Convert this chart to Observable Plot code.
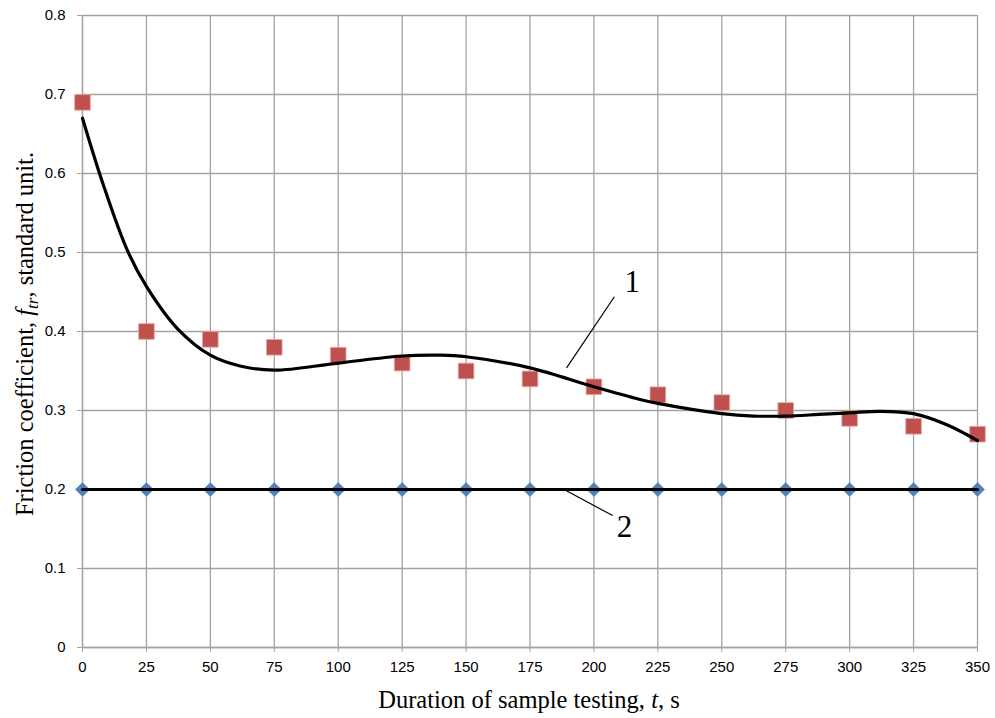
<!DOCTYPE html>
<html><head><meta charset="utf-8">
<script src="https://cdn.jsdelivr.net/npm/d3@7"></script>
<script src="https://cdn.jsdelivr.net/npm/@observablehq/plot@0.6"></script>
<style>
body{margin:0;background:#fff}
g[aria-label$="tick label"], g[aria-label$="tick label"] text { font-size: 15px !important; font-family: "Liberation Sans", Arial, sans-serif !important; }
</style>
</head><body><div id="chart"></div>
<script>
// Data
const times = [0, 25, 50, 75, 100, 125, 150, 175, 200, 225, 250, 275, 300, 325, 350];
const measured = [0.69, 0.40, 0.39, 0.38, 0.37, 0.36, 0.35, 0.34, 0.33, 0.32, 0.31, 0.30, 0.29, 0.28, 0.27];
const baseline = [0.2, 0.2, 0.2, 0.2, 0.2, 0.2, 0.2, 0.2, 0.2, 0.2, 0.2, 0.2, 0.2, 0.2, 0.2];
const trendT = [0, 8, 17.5, 25, 37, 50, 62, 75, 100, 125, 140, 150, 175, 200, 218, 225, 250, 262.5, 275, 288, 300, 312, 325, 338, 350];
const trendV = [0.670, 0.587, 0.503, 0.457, 0.404, 0.370, 0.356, 0.351, 0.360, 0.369, 0.370, 0.368, 0.354, 0.330, 0.314, 0.309, 0.296, 0.293, 0.293, 0.295, 0.297, 0.299, 0.296, 0.282, 0.262];
const xTicks = [0, 25, 50, 75, 100, 125, 150, 175, 200, 225, 250, 275, 300, 325, 350];
const yTicks = [0, 0.1, 0.2, 0.3, 0.4, 0.5, 0.6, 0.7, 0.8];
const labels = ["1", "2"];
const labelT = [215, 212];
const labelV = [0.462, 0.152];
const leaderT1 = [189.3, 188.9];
const leaderV1 = [0.354, 0.199];
const leaderT2 = [208, 207.3];
const leaderV2 = [0.444, 0.167];

const pts = times.map((t, i) => ({t, m: measured[i], b: baseline[i]}));
const trend = trendT.map((t, i) => ({t, v: trendV[i]}));
const ann = labels.map((l, i) => ({l, t: labelT[i], v: labelV[i], t1: leaderT1[i], v1: leaderV1[i], t2: leaderT2[i], v2: leaderV2[i]}));

const gridColor = "#a3a3a3";
const tickFont = "Liberation Sans, Arial, sans-serif";
const svg = Plot.plot({
  width: 995, height: 718,
  marginLeft: 82, marginRight: 18, marginTop: 15, marginBottom: 71,
  style: {fontFamily: tickFont, fontSize: "15px", background: "#fff", color: "#000"},
  x: {domain: [0, 350]},
  y: {domain: [0, 0.8]},
  marks: [
    Plot.gridX(xTicks, {stroke: gridColor, strokeOpacity: 1, strokeWidth: 1.3}),
    Plot.gridY(yTicks, {stroke: gridColor, strokeOpacity: 1, strokeWidth: 1.3}),
    Plot.axisX({ticks: xTicks, tickSize: 5, tickPadding: 9, stroke: gridColor, fill: "#000", fontSize: 15, label: null, tickFormat: d => String(d)}),
    Plot.axisY({ticks: yTicks, tickSize: 5, tickPadding: 12, stroke: gridColor, fill: "#000", fontSize: 15, label: null, tickFormat: d => d === 0 ? "0" : d.toFixed(1)}),
    Plot.ruleX([0], {stroke: gridColor, strokeWidth: 1.3}),
    Plot.ruleY([0], {stroke: gridColor, strokeWidth: 1.3}),
    Plot.link(ann, {x1: "t1", y1: "v1", x2: "t2", y2: "v2", stroke: "#000", strokeWidth: 1.2}),
    Plot.text(ann, {x: "t", y: "v", text: "l", fontFamily: "Liberation Serif, Times New Roman, serif", fontSize: 31, fill: "#000"}),
    Plot.dot(pts, {x: "t", y: "m", symbol: "square", r: 8.8, fill: "#C0504D", stroke: "#e3a3a1", strokeWidth: 0.8}),
    Plot.line(trend, {x: "t", y: "v", curve: "catmull-rom", stroke: "#000", strokeWidth: 3.2}),
    Plot.dot(pts, {x: "t", y: "b", symbol: "diamond2", r: 6.4, fill: "#4F81BD", stroke: "#4F81BD", strokeWidth: 0.5}),
    Plot.line(pts, {x: "t", y: "b", stroke: "#000", strokeWidth: 3.2})
  ]
});
document.getElementById("chart").appendChild(svg);

const s = d3.select(svg);
s.selectAll('g[aria-label$="tick label"]').attr("font-size", 15).style("font-size", "15px");
const serif = "Liberation Serif, Times New Roman, serif";
const xt = s.append("text").attr("x", 529).attr("y", 708).attr("text-anchor", "middle")
  .attr("font-family", serif).attr("font-size", 24.5).attr("fill", "#000");
xt.append("tspan").text("Duration of sample testing, ");
xt.append("tspan").attr("font-style", "italic").text("t");
xt.append("tspan").text(", s");

const yt = s.append("text").attr("transform", "translate(33,334) rotate(-90)").attr("text-anchor", "middle")
  .attr("font-family", serif).attr("font-size", 24.5).attr("fill", "#000");
yt.append("tspan").text("Friction coefficient, ");
yt.append("tspan").attr("font-style", "italic").text("f");
yt.append("tspan").attr("font-style", "italic").attr("font-size", 17).attr("dy", 5).text("tr");
yt.append("tspan").attr("dy", -5).text(", standard unit.");
</script>
</body></html>
